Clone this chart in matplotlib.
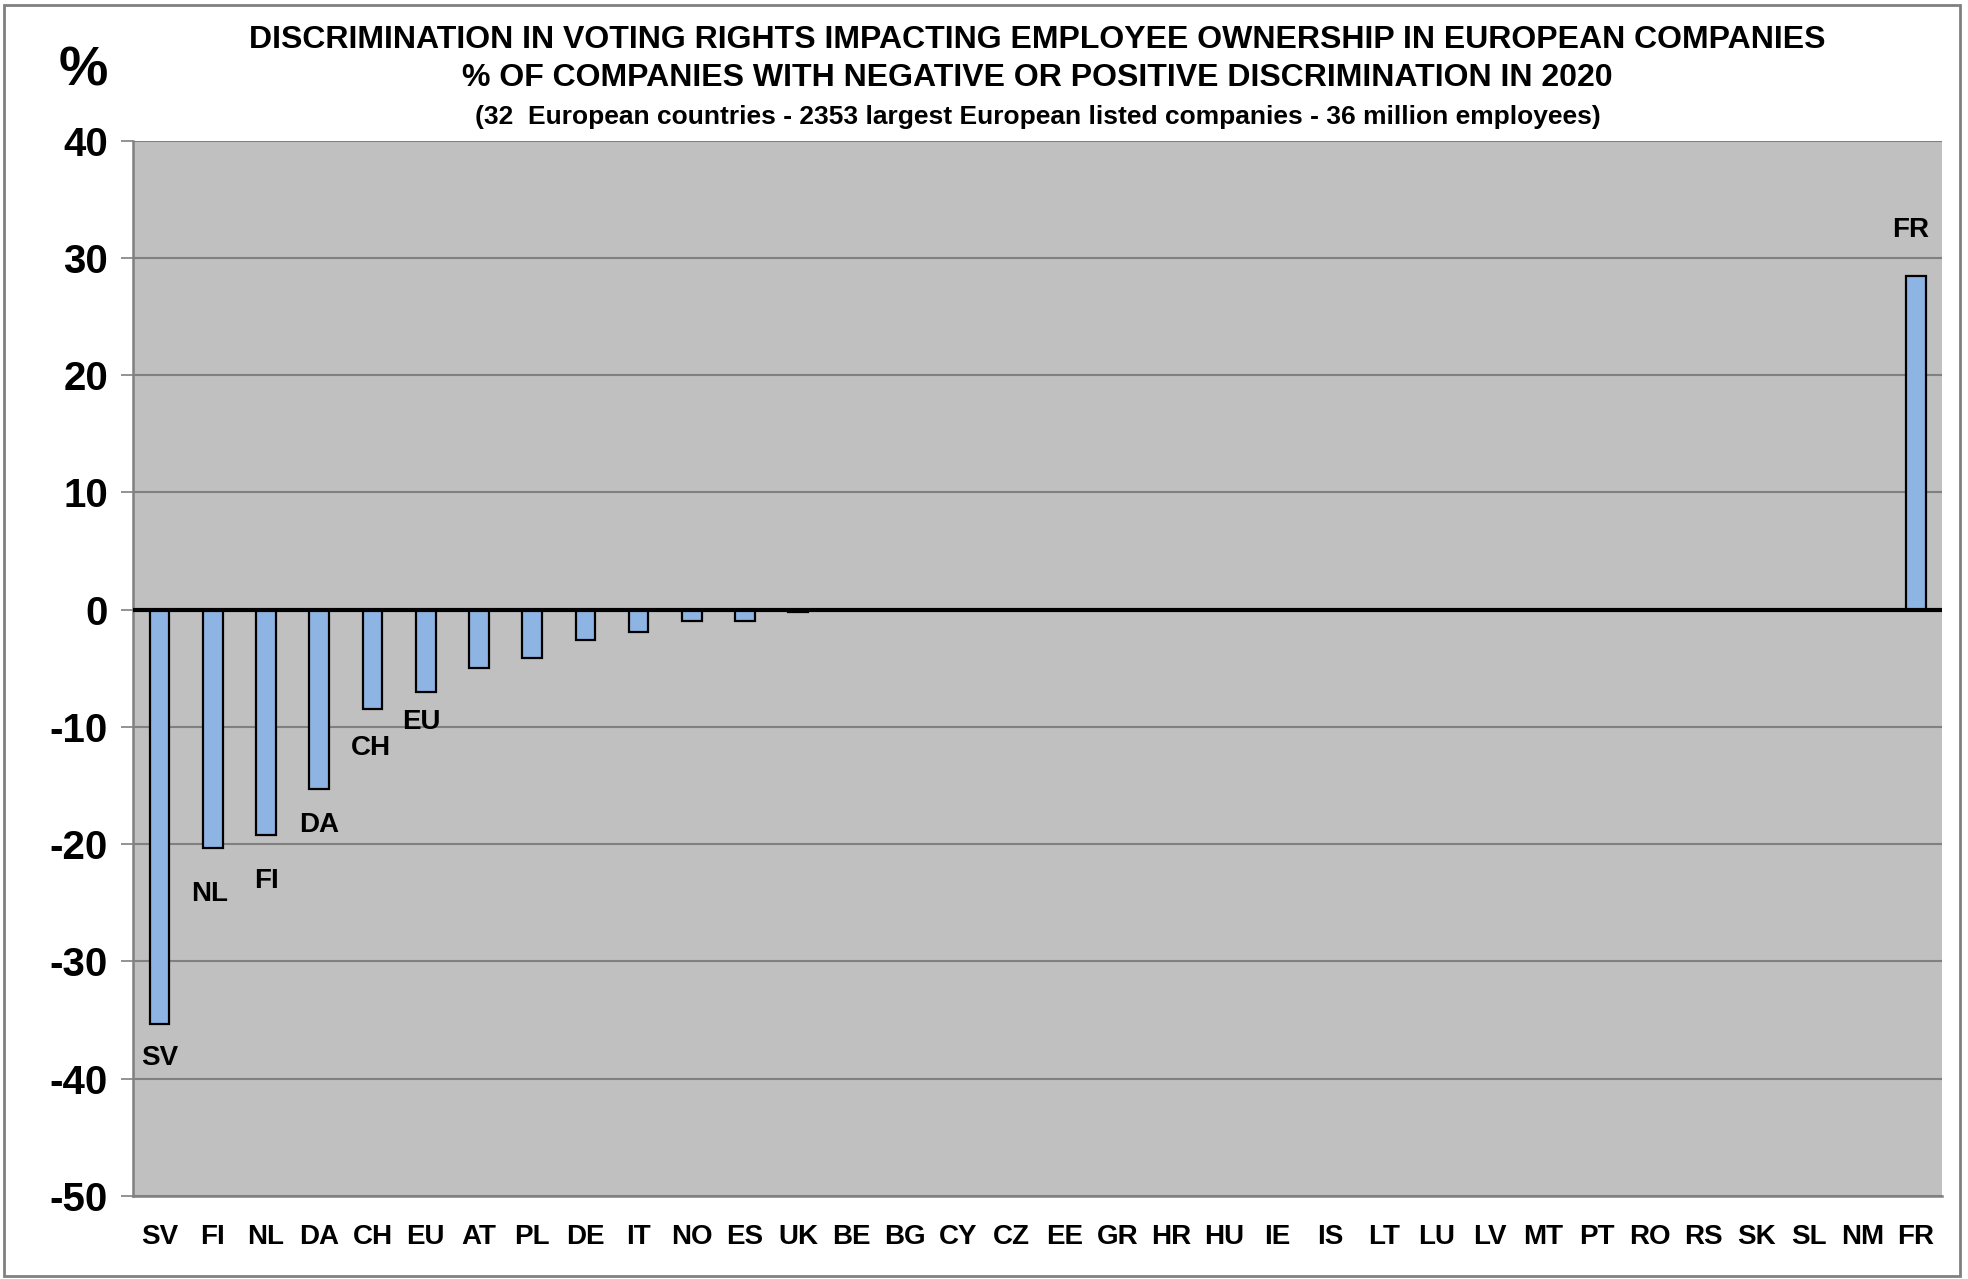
import matplotlib
matplotlib.use("Agg")
import matplotlib.pyplot as plt
from matplotlib.patches import Rectangle

countries = ["SV", "FI", "NL", "DA", "CH", "EU", "AT", "PL", "DE", "IT", "NO", "ES", "UK",
             "BE", "BG", "CY", "CZ", "EE", "GR", "HR", "HU", "IE", "IS", "LT", "LU", "LV",
             "MT", "PT", "RO", "RS", "SK", "SL", "NM", "FR"]
values = [-35.3, -20.3, -19.2, -15.3, -8.5, -7.0, -5.0, -4.1, -2.6, -1.9, -1.0, -1.0, -0.2,
          0, 0, 0, 0, 0, 0, 0, 0, 0, 0, 0, 0, 0,
          0, 0, 0, 0, 0, 0, 0, 28.5]
# data labels shown on the chart (bar index, text)
label_idx = [0, 1, 2, 3, 4, 5, 33]
label_txt = ["SV", "NL", "FI", "DA", "CH", "EU", "FR"]
# label offsets (points) from bar end
label_dy = [-25, -33, -33, -26, -28, -22, 33]
label_dx = [0, -2, 0, 0, -1, -3, -4]

yticks = [40, 30, 20, 10, 0, -10, -20, -30, -40, -50]

FONT = "Liberation Sans"
fig = plt.figure(figsize=(19.68, 12.79), dpi=100)
ax = fig.add_axes([0.0676, 0.0649, 0.9194, 0.8251])
ax.set_facecolor("#C0C0C0")

x = list(range(len(countries)))
ax.bar(x, values, width=0.37, color="#8EB4E3", edgecolor="black", linewidth=1.6, zorder=3)
ax.axhline(0, color="black", linewidth=3, zorder=4)

ax.set_xlim(-0.5, len(countries) - 0.5)
ax.set_ylim(-50, 40)
ax.set_yticks(yticks)
ax.set_yticklabels([str(t) for t in yticks], fontsize=29, fontweight="bold", family=FONT)
ax.set_xticks(x)
ax.set_xticklabels(countries, fontsize=20, fontweight="bold", family=FONT)
ax.tick_params(axis="x", length=0, pad=20)
ax.tick_params(axis="y", length=9, width=1.2, color="#808080", pad=9)
ax.grid(axis="y", color="#808080", linewidth=1.5, zorder=1)
for s in ["left", "bottom"]:
    ax.spines[s].set_color("#808080")
    ax.spines[s].set_linewidth(1.8)
for s in ["right", "top"]:
    ax.spines[s].set_visible(False)

for i, t, dx, dy in zip(label_idx, label_txt, label_dx, label_dy):
    ax.annotate(t, (x[i], values[i]), xytext=(dx, dy), textcoords="offset points",
                ha="center", va="center", fontsize=20, fontweight="bold", family=FONT)

cx = 0.0676 + 0.9194 / 2
fig.text(cx, 1 - 40 / 1279, "DISCRIMINATION IN VOTING RIGHTS IMPACTING EMPLOYEE OWNERSHIP IN EUROPEAN COMPANIES",
         ha="center", va="center", fontsize=23, fontweight="bold", family=FONT)
fig.text(cx, 1 - 78 / 1279, "% OF COMPANIES WITH NEGATIVE OR POSITIVE DISCRIMINATION IN 2020",
         ha="center", va="center", fontsize=23, fontweight="bold", family=FONT)
fig.text(cx, 1 - 117 / 1279, "(32  European countries - 2353 largest European listed companies - 36 million employees)",
         ha="center", va="center", fontsize=19, fontweight="bold", family=FONT)
fig.text(83 / 1968, 1 - 72 / 1279, "%", ha="center", va="center", fontsize=40, fontweight="bold", family=FONT)

fig.patches.append(Rectangle((0.002, 0.002), 0.994, 0.994, transform=fig.transFigure,
                             fill=False, edgecolor="#808080", linewidth=2))

fig.savefig("out.png", dpi=100, facecolor="white")
